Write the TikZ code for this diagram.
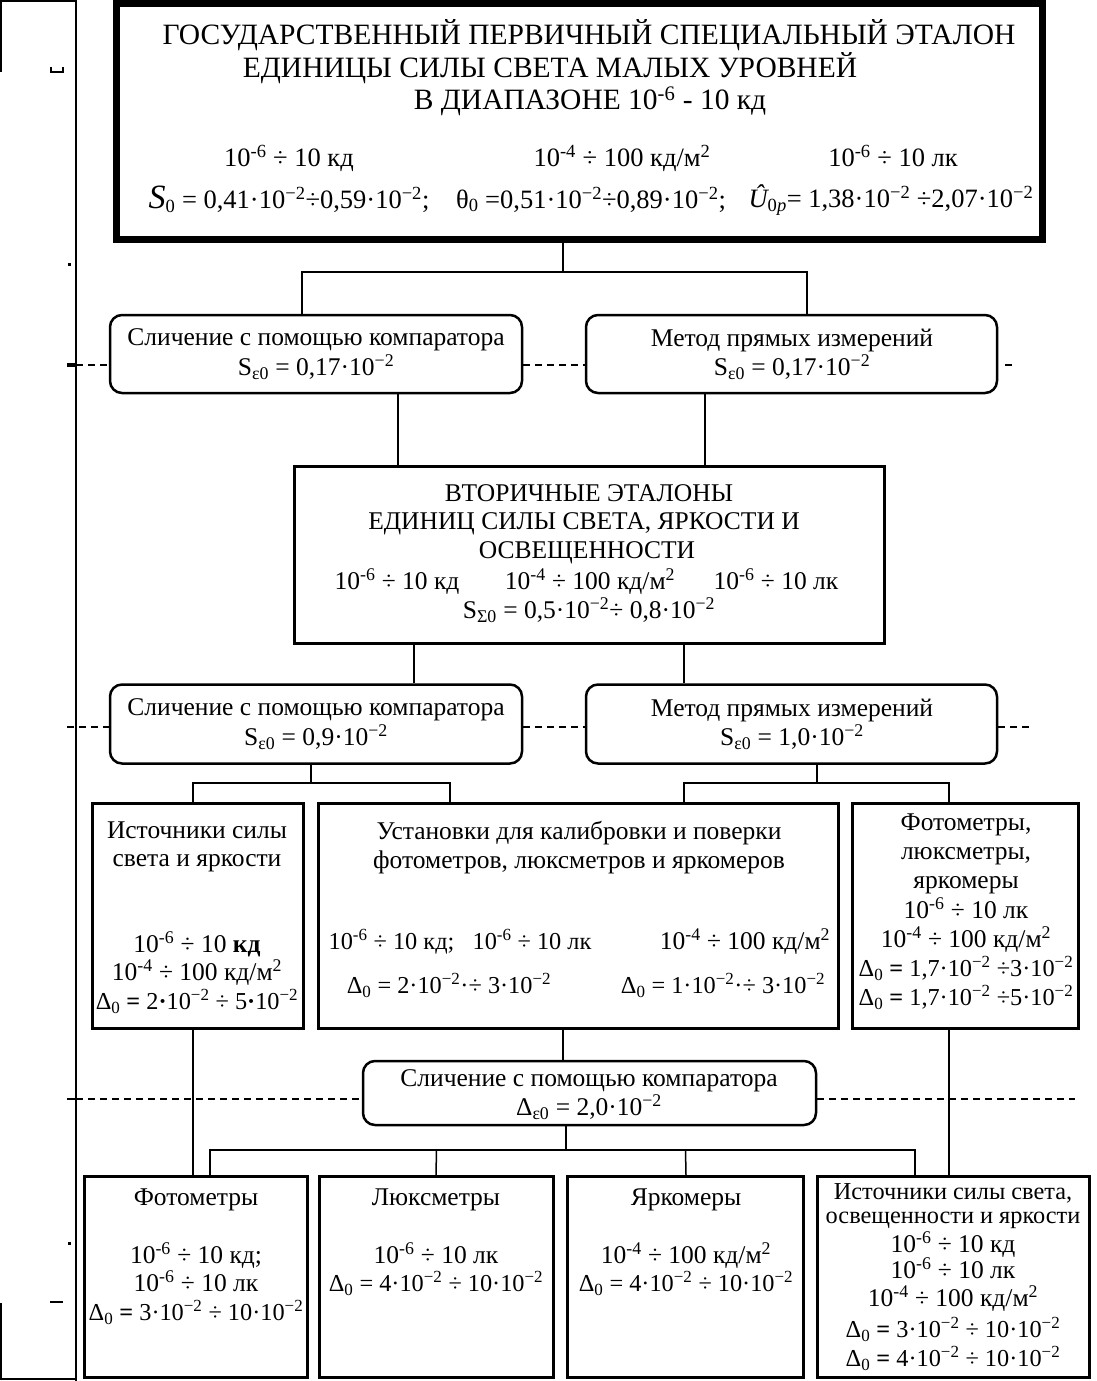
\documentclass[tikz,border=0pt]{standalone}
\usepackage{fontspec}
\setmainfont{Liberation Serif}
\usetikzlibrary{calc}
\newcommand{\SUP}[1]{\textsuperscript{#1}}
\newcommand{\SUB}[1]{\textsubscript{#1}}
\newcommand{\stt}{\rule[-5pt]{0pt}{19pt}}
\newcommand{\fsb}{\fontsize{25.5}{29}\selectfont}
\newcommand{\fss}{\fontsize{24.3}{29}\selectfont}
\newcommand{\fsn}{\fontsize{26.5}{29}\selectfont}
\newcommand{\fst}{\fontsize{29.5}{33}\selectfont}
\begin{document}
\begin{tikzpicture}[x=1pt,y=-1pt,
  conn/.style={line width=1.5pt},
  dashln/.style={line width=1.5pt, dash pattern=on 7pt off 5pt},
  frame/.style={line width=2pt},
  rbox/.style={draw, line width=2.5pt, rounded corners=12pt, inner sep=0pt},
  tbox/.style={draw, line width=3.5pt, inner sep=0pt},
  mbox/.style={draw, line width=2.5pt, inner sep=0pt},
  txt/.style={inner sep=0pt, font=\fsb, execute at begin node=\stt},
  txs/.style={inner sep=0pt, font=\fss, execute at begin node=\stt},
  txn/.style={inner sep=0pt, font=\fsn, execute at begin node=\stt},
  ttl/.style={inner sep=0pt, font=\fst}]
\useasboundingbox (0,0) rectangle (1096,1381);
\fill[white] (0,0) rectangle (1096,1381);

% ---------- left frame ----------
\draw[frame] (1,72) -- (1,1) -- (76,1);
\draw[frame] (76,0) -- (76,1381);
\draw[frame] (1,1303) -- (1,1379) -- (76,1379);
\draw[line width=1.5pt] (51,67) -- (51,72) -- (63,72) -- (63,67);
\draw[line width=2pt] (50,1302) -- (63,1302);
\fill (67.5,262.5) rectangle (70.5,265.5);
\fill (67.5,1241.5) rectangle (70.5,1244.5);
\draw[line width=4pt] (67,365) -- (76,365);
\draw[line width=2pt] (67,1099) -- (76,1099);

% ---------- boxes ----------
\node[draw, line width=5pt, inner sep=0pt, minimum width=928pt, minimum height=238pt] (top) at (579.5,121.5) {};
\draw[line width=1.5pt] ($(top.south west)+(6,-6)$) rectangle ($(top.north east)+(-6,6)$);

\node[rbox, minimum width=412pt, minimum height=78pt] (c1) at (316,354) {};
\node[rbox, minimum width=411pt, minimum height=78pt] (c2) at (791.5,354) {};
\node[tbox, minimum width=590pt, minimum height=177pt] (sec) at (589.5,555) {};
\node[rbox, minimum width=412pt, minimum height=79pt] (c3) at (316,724) {};
\node[rbox, minimum width=411pt, minimum height=79pt] (c4) at (791.5,724) {};
\node[tbox, minimum width=211pt, minimum height=225pt] (bA) at (198,916) {};
\node[tbox, minimum width=520pt, minimum height=225pt] (bB) at (578.5,916) {};
\node[mbox, minimum width=226pt, minimum height=225pt] (bC) at (965.5,916) {};
\node[rbox, minimum width=453pt, minimum height=64pt] (cmp) at (589.5,1093) {};
\node[tbox, minimum width=223pt, minimum height=201pt] (f1) at (196,1277) {};
\node[tbox, minimum width=234pt, minimum height=201pt] (f2) at (436.5,1277) {};
\node[tbox, minimum width=236pt, minimum height=201pt] (f3) at (685.5,1277) {};
\node[tbox, minimum width=272pt, minimum height=201pt] (f4) at (953.5,1277) {};

% ---------- connector coordinates ----------
\coordinate (j1) at (563,272);
\coordinate (x302) at (302,0);
\coordinate (x807) at (807,0);
\coordinate (x398) at (398,0);
\coordinate (x705) at (705,0);
\coordinate (x414) at (414,0);
\coordinate (x684) at (684,0);
\coordinate (j2) at (311,783);
\coordinate (x193) at (193,0);
\coordinate (x450) at (450,0);
\coordinate (j3) at (817,783);
\coordinate (x949) at (949,0);
\coordinate (x563) at (563,0);
\coordinate (j4) at (566,1150);
\coordinate (x210) at (210,0);
\coordinate (x436) at (436,0);
\coordinate (x686) at (686,0);
\coordinate (x915) at (915,0);

% ---------- connectors ----------
\draw[conn] (top.south -| j1) -- (j1);
\draw[conn] (c1.north -| x302) |- (j1) -| (c2.north -| x807);
\draw[conn] (c1.south -| x398) -- (sec.north -| x398);
\draw[conn] (c2.south -| x705) -- (sec.north -| x705);
\draw[conn] (sec.south -| x414) -- (c3.north -| x414);
\draw[conn] (sec.south -| x684) -- (c4.north -| x684);
\draw[conn] (c3.south -| j2) -- (j2);
\draw[conn] (bA.north -| x193) |- (j2) -| (bB.north -| x450);
\draw[conn] (c4.south -| j3) -- (j3);
\draw[conn] (bB.north -| x684) |- (j3) -| (bC.north -| x949);
\draw[conn] (bA.south -| x193) -- (f1.north -| x193);
\draw[conn] (bB.south -| x563) -- (cmp.north -| x563);
\draw[conn] (bC.south -| x949) -- (f4.north -| x949);
\draw[conn] (cmp.south -| j4) -- (j4);
\draw[conn] (f1.north -| x210) |- (j4) -| (f4.north -| x915);
\draw[conn] (f2.north -| x436) -- (f2.north |- j4);
\draw[conn] (f3.north -| x686) -- (f3.north |- j4);

% ---------- dashed lines ----------
\coordinate (d1) at (76,365);
\coordinate (d1r) at (1012,365);
\draw[dashln] (d1) -- (d1 -| c1.west);
\draw[dashln] (c1.east |- d1) -- (c2.west |- d1);
\draw[dashln] (d1r) -- ++(-7,0);
\coordinate (d2) at (67,727);
\coordinate (d2r) at (1030,727);
\draw[dashln] (d2) -- (d2 -| c3.west);
\draw[dashln] (c3.east |- d2) -- (c4.west |- d2);
\draw[dashln] (c4.east |- d2) -- (d2r);
\coordinate (d3) at (76,1099);
\coordinate (d3r) at (1075,1099);
\draw[dashln] (d3) -- (d3 -| cmp.west);
\draw[dashln] (cmp.east |- d3) -- (d3r);

% ---------- texts: top box ----------
\node[ttl] (t1) at (589,35) {ГОСУДАРСТВЕННЫЙ ПЕРВИЧНЫЙ СПЕЦИАЛЬНЫЙ ЭТАЛОН};
\node[ttl] (t2) at (550,68) {ЕДИНИЦЫ СИЛЫ СВЕТА МАЛЫХ УРОВНЕЙ};
\node[ttl] (t3) at (590,101) {В ДИАПАЗОНЕ 10\SUP{-6} - 10 кд};
\node[txn] (t4) at (289,158) {10\SUP{-6} ÷ 10 кд};
\node[txn] (t5) at (622,158) {10\SUP{-4} ÷ 100 кд/м\SUP{2}};
\node[txn] (t6) at (893,158) {10\SUP{-6} ÷ 10 лк};
\node[txn] (t7) at (289,200) {{\fontsize{34}{34}\selectfont\itshape S}\SUB{0} = 0,41·10\SUP{−2}÷0,59·10\SUP{−2};};
\node[txn] (t8) at (591,200) {θ\SUB{0} =0,51·10\SUP{−2}÷0,89·10\SUP{−2};};
\node[txn] (t9) at (891,200) {{\itshape Û}\SUB{0\itshape p}= 1,38·10\SUP{−2} ÷2,07·10\SUP{−2}};

% ---------- row 2 ----------
\node[txt] (t10) at (316,340) {Сличение с помощью компаратора};
\node[txt] (t11) at (316,368) {S\SUB{ε0} = 0,17·10\SUP{−2}};
\node[txt] (t12) at (792,340) {Метод прямых измерений};
\node[txt] (t13) at (792,368) {S\SUB{ε0} = 0,17·10\SUP{−2}};

% ---------- secondary standards ----------
\node[txt] (t14) at (589,496) {ВТОРИЧНЫЕ ЭТАЛОНЫ};
\node[txt] (t15) at (584,524) {ЕДИНИЦ СИЛЫ СВЕТА, ЯРКОСТИ И};
\node[txt] (t16) at (587,553) {ОСВЕЩЕННОСТИ};
\node[txt] (t17) at (397,582) {10\SUP{-6} ÷ 10 кд};
\node[txt] (t18) at (590,582) {10\SUP{-4} ÷ 100 кд/м\SUP{2}};
\node[txt] (t19) at (776,582) {10\SUP{-6} ÷ 10 лк};
\node[txt] (t20) at (589,611) {S\SUB{Σ0} = 0,5·10\SUP{−2}÷ 0,8·10\SUP{−2}};

% ---------- row 4 ----------
\node[txt] (t21) at (316,710) {Сличение с помощью компаратора};
\node[txt] (t22) at (316,738) {S\SUB{ε0} = 0,9·10\SUP{−2}};
\node[txt] (t23) at (792,710) {Метод прямых измерений};
\node[txt] (t24) at (792,738) {S\SUB{ε0} = 1,0·10\SUP{−2}};

% ---------- row 5 ----------
\node[txt] (t25) at (197,833) {Источники силы};
\node[txt] (t26) at (197,862) {света и яркости};
\node[txt] (t27) at (197,945) {10\SUP{-6} ÷ 10 \textbf{кд}};
\node[txt] (t28) at (197,973) {10\SUP{-4} ÷ 100 кд/м\SUP{2}};
\node[txs] (t29) at (197,1002) {Δ\SUB{0} \textbf{=} 2\textbf{·}10\SUP{−2} ÷ 5\textbf{·}10\SUP{−2}};

\node[txt] (t30) at (579,833) {Установки для калибровки и поверки};
\node[txt] (t31) at (579,862) {фотометров, люксметров и яркомеров};
\node[txs] (t32) at (460,942) {10\SUP{-6} ÷ 10 кд;\enspace\ 10\SUP{-6} ÷ 10 лк};
\node[txt] (t33) at (745,942) {10\SUP{-4} ÷ 100 кд/м\SUP{2}};
\node[txs] (t34) at (449,986) {Δ\SUB{0} = 2·10\SUP{−2}·÷ 3·10\SUP{−2}};
\node[txs] (t35) at (723,986) {Δ\SUB{0} = 1·10\SUP{−2}·÷ 3·10\SUP{−2}};

\node[txt] (t36) at (966,825) {Фотометры,};
\node[txt] (t37) at (966,855) {люксметры,};
\node[txt] (t38) at (966,884) {яркомеры};
\node[txt] (t39) at (966,911) {10\SUP{-6} ÷ 10 лк};
\node[txt] (t40) at (966,940) {10\SUP{-4} ÷ 100 кд/м\SUP{2}};
\node[txs] (t41) at (966,969) {Δ\SUB{0} \textbf{=} 1,7·10\SUP{−2} ÷3·10\SUP{−2}};
\node[txs] (t42) at (966,998) {Δ\SUB{0} \textbf{=} 1,7·10\SUP{−2} ÷5·10\SUP{−2}};

% ---------- comparator ----------
\node[txt] (t43) at (589,1081) {Сличение с помощью компаратора};
\node[txt] (t44) at (589,1108) {Δ\SUB{ε0} = 2,0·10\SUP{−2}};

% ---------- row 6 ----------
\node[txt] (t45) at (196,1200) {Фотометры};
\node[txt] (t46) at (196,1256) {10\SUP{-6} ÷ 10 кд;};
\node[txt] (t47) at (196,1284) {10\SUP{-6} ÷ 10 лк};
\node[txs] (t48) at (196,1313) {Δ\SUB{0} \textbf{=} 3·10\SUP{−2} ÷ 10·10\SUP{−2}};

\node[txt] (t49) at (436,1200) {Люксметры};
\node[txt] (t50) at (436,1256) {10\SUP{-6} ÷ 10 лк};
\node[txs] (t51) at (436,1284) {Δ\SUB{0} = 4·10\SUP{−2} ÷ 10·10\SUP{−2}};

\node[txt] (t52) at (686,1200) {Яркомеры};
\node[txt] (t53) at (686,1256) {10\SUP{-4} ÷ 100 кд/м\SUP{2}};
\node[txs] (t54) at (686,1284) {Δ\SUB{0} = 4·10\SUP{−2} ÷ 10·10\SUP{−2}};

\node[txs] (t55) at (953,1194) {Источники силы света,};
\node[txs] (t56) at (953,1219) {освещенности и яркости};
\node[txt] (t57) at (953,1245) {10\SUP{-6} ÷ 10 кд};
\node[txt] (t58) at (953,1271) {10\SUP{-6} ÷ 10 лк};
\node[txt] (t59) at (953,1299) {10\SUP{-4} ÷ 100 кд/м\SUP{2}};
\node[txs] (t60) at (953,1330) {Δ\SUB{0} \textbf{=} 3·10\SUP{−2} ÷ 10·10\SUP{−2}};
\node[txs] (t61) at (953,1359) {Δ\SUB{0} \textbf{=} 4·10\SUP{−2} ÷ 10·10\SUP{−2}};
\end{tikzpicture}
\end{document}
